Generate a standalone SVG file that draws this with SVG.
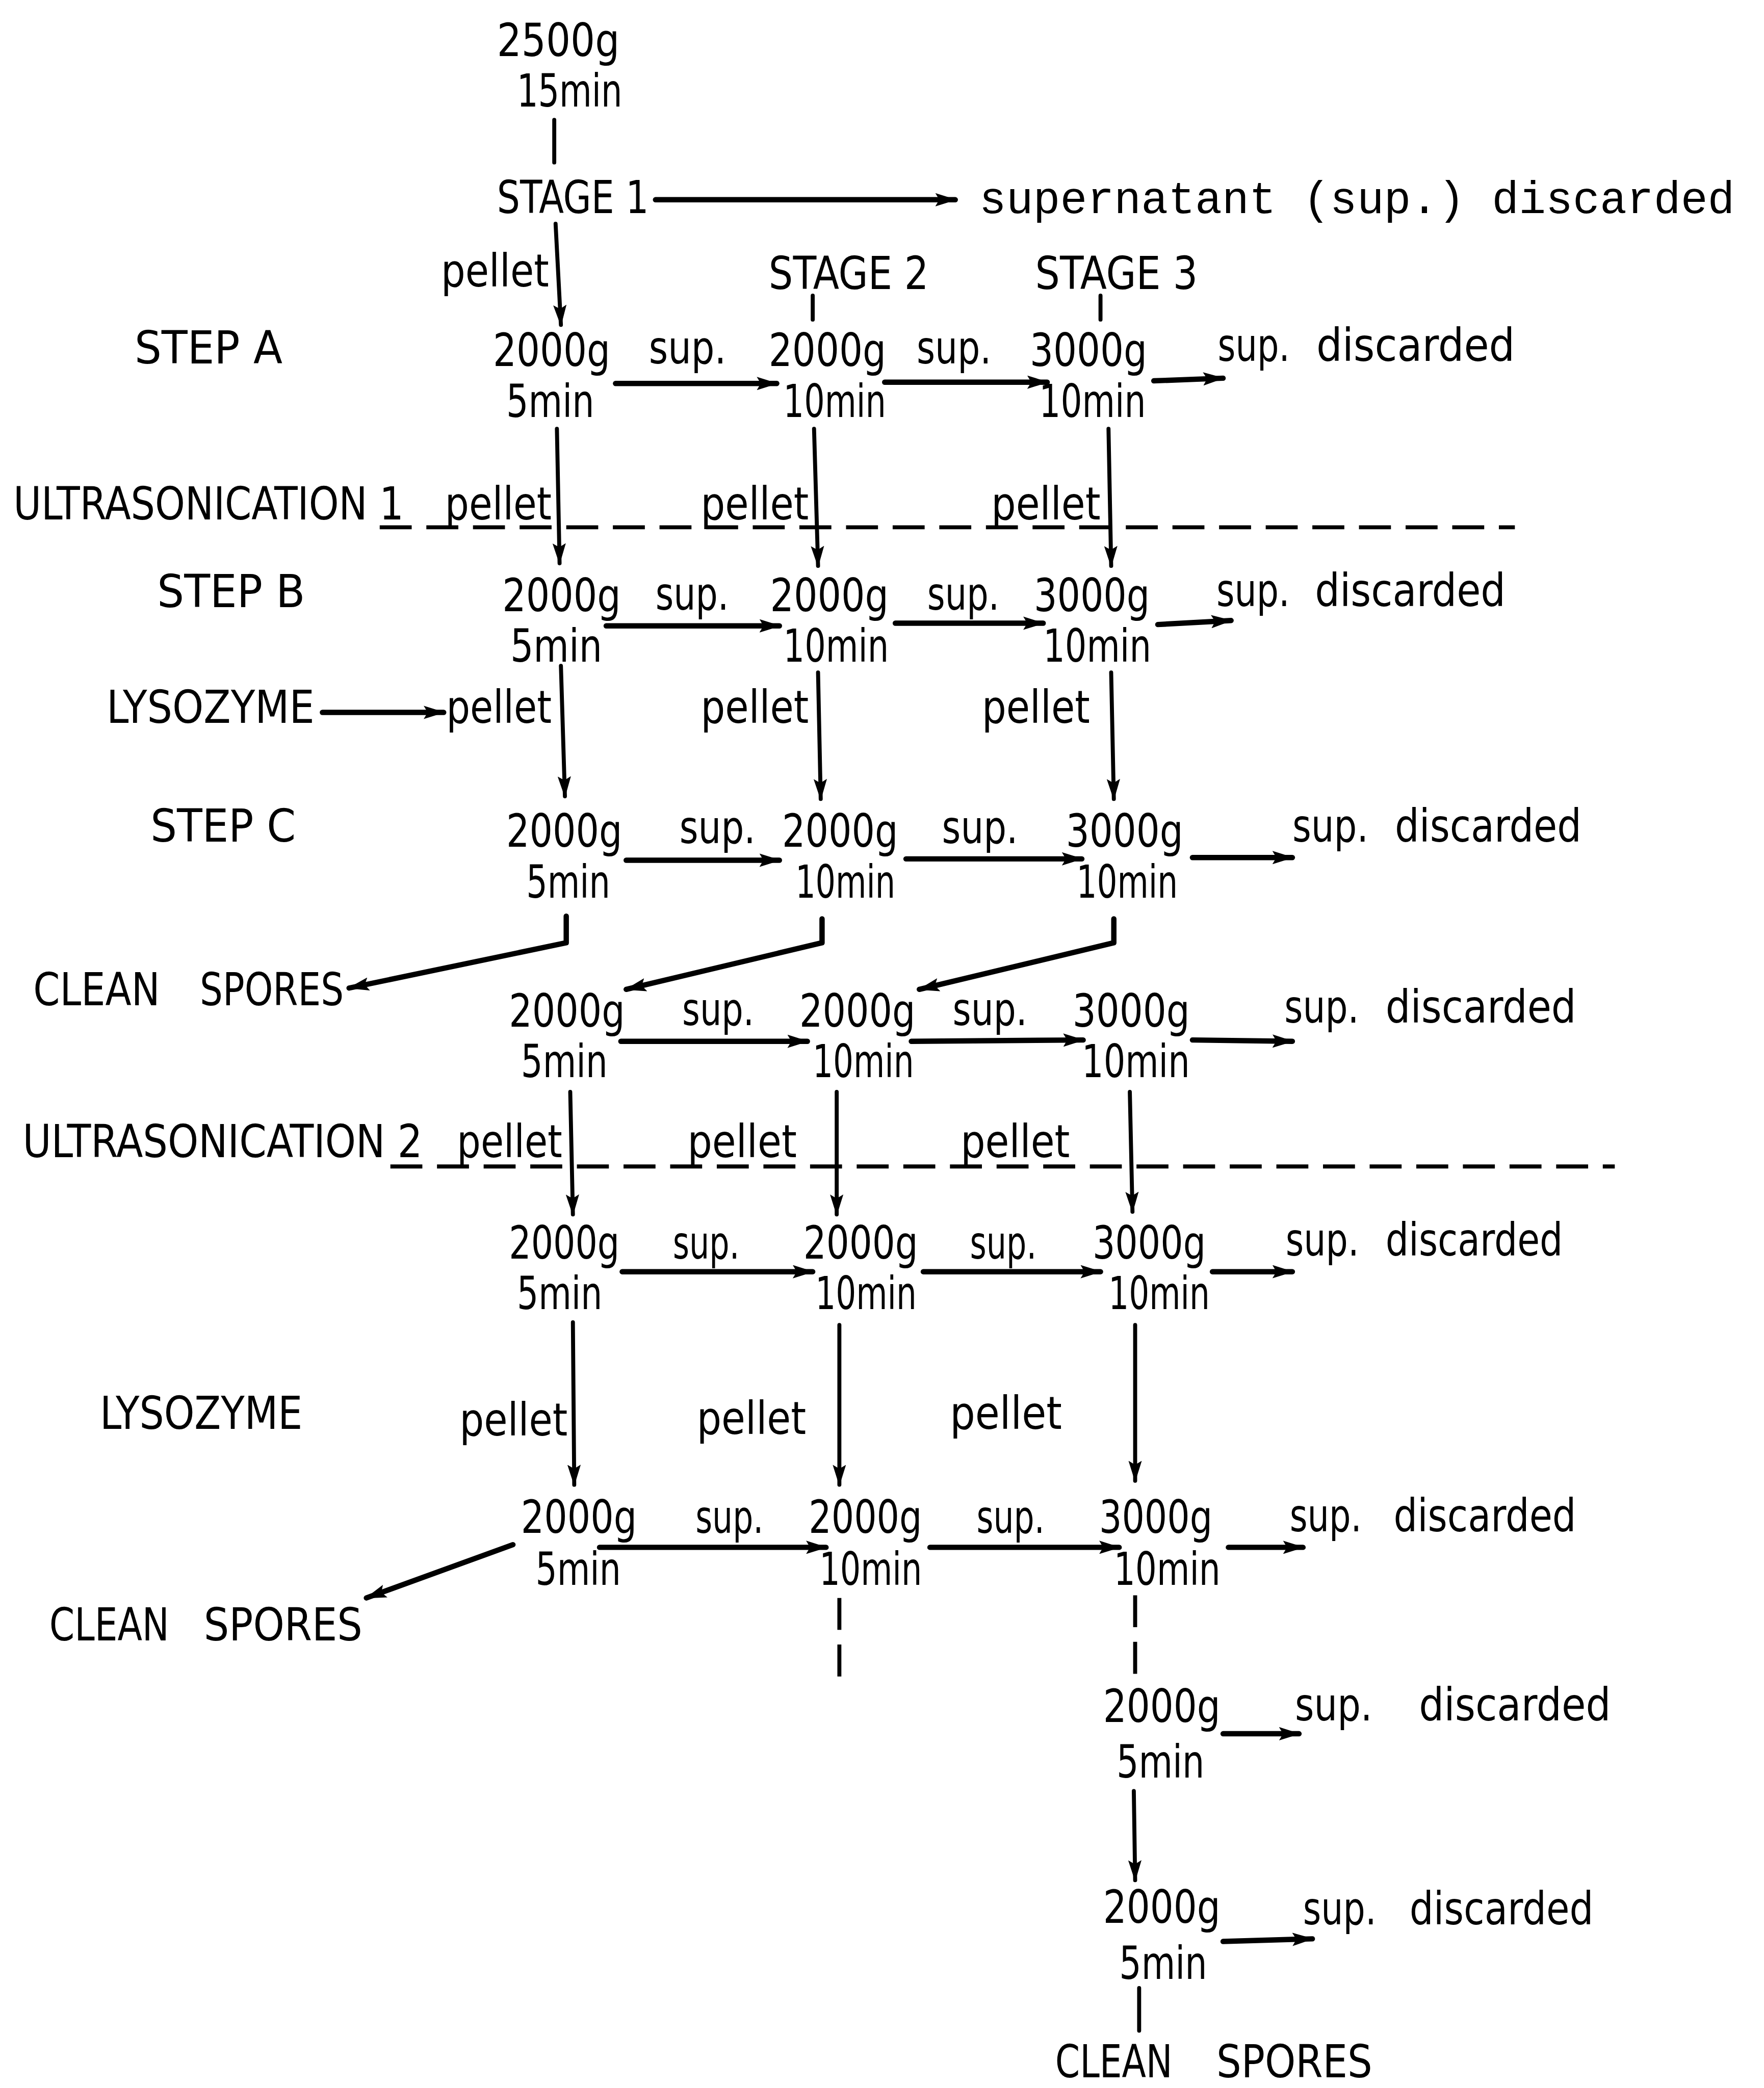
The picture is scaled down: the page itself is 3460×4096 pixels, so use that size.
<svg xmlns="http://www.w3.org/2000/svg" width="3460" height="4096" viewBox="0 0 3460 4096">
<style>
.t{font-family:"DejaVu Sans Condensed","DejaVu Sans","Liberation Sans",sans-serif;font-size:34px;fill:#000}
.m{font-family:"Liberation Mono","DejaVu Sans Mono",monospace;font-size:34px;fill:#000}
.c{stroke:#000;stroke-width:3;fill:none;stroke-linecap:round;stroke-linejoin:round}
.h{stroke-width:4}
.d{stroke-dasharray:24 11;stroke-linecap:butt}
</style>
<defs>
<marker id="ah" viewBox="0 0 16 10" refX="15" refY="5" markerWidth="16" markerHeight="10" markerUnits="userSpaceOnUse" orient="auto">
<path d="M0,0 L16,5 L0,10 L3,5 z" fill="#000"/>
</marker>
</defs>
<rect width="3460" height="4096" fill="#fff"/>
<g transform="scale(2.6133 2.6122)">
<g id="connectors">
<line class="c" x1="416" y1="90" x2="416" y2="122"/>
<line class="c h" x1="492" y1="150" x2="717" y2="150" marker-end="url(#ah)"/>
<line class="c" x1="417" y1="168" x2="421" y2="244" marker-end="url(#ah)"/>
<line class="c" x1="610" y1="222" x2="610" y2="240"/>
<line class="c" x1="826" y1="222" x2="826" y2="240"/>
<line class="c h" x1="462" y1="288" x2="583" y2="288" marker-end="url(#ah)"/>
<line class="c h" x1="664" y1="287" x2="786" y2="287" marker-end="url(#ah)"/>
<line class="c h" x1="866" y1="286" x2="918" y2="284" marker-end="url(#ah)"/>
<line class="c" x1="418" y1="322" x2="420" y2="423" marker-end="url(#ah)"/>
<line class="c" x1="611" y1="322" x2="614" y2="425" marker-end="url(#ah)"/>
<line class="c" x1="832" y1="322" x2="834" y2="425" marker-end="url(#ah)"/>
<line class="c d" x1="285" y1="396" x2="1137" y2="396"/>
<line class="c h" x1="455" y1="470" x2="585" y2="470" marker-end="url(#ah)"/>
<line class="c h" x1="672" y1="468" x2="783" y2="468" marker-end="url(#ah)"/>
<line class="c h" x1="869" y1="469" x2="924" y2="466" marker-end="url(#ah)"/>
<line class="c h" x1="242" y1="535" x2="333" y2="535" marker-end="url(#ah)"/>
<line class="c" x1="421" y1="500" x2="424" y2="598" marker-end="url(#ah)"/>
<line class="c" x1="614" y1="505" x2="616" y2="600" marker-end="url(#ah)"/>
<line class="c" x1="834" y1="505" x2="836" y2="600" marker-end="url(#ah)"/>
<line class="c h" x1="470" y1="646" x2="585" y2="646" marker-end="url(#ah)"/>
<line class="c h" x1="680" y1="645" x2="812" y2="645" marker-end="url(#ah)"/>
<line class="c h" x1="895" y1="644" x2="970" y2="644" marker-end="url(#ah)"/>
<polyline class="c h" points="425,688 425,708 262,742" marker-end="url(#ah)"/>
<polyline class="c h" points="617,690 617,708 470,743" marker-end="url(#ah)"/>
<polyline class="c h" points="836,690 836,708 690,743" marker-end="url(#ah)"/>
<line class="c h" x1="466" y1="782" x2="606" y2="782" marker-end="url(#ah)"/>
<line class="c h" x1="684" y1="782" x2="813" y2="781" marker-end="url(#ah)"/>
<line class="c h" x1="895" y1="781" x2="970" y2="782" marker-end="url(#ah)"/>
<line class="c" x1="428" y1="820" x2="430" y2="912" marker-end="url(#ah)"/>
<line class="c" x1="628" y1="820" x2="628" y2="912" marker-end="url(#ah)"/>
<line class="c" x1="848" y1="820" x2="850" y2="910" marker-end="url(#ah)"/>
<line class="c d" x1="293" y1="876" x2="1212" y2="876"/>
<line class="c h" x1="467" y1="955" x2="610" y2="955" marker-end="url(#ah)"/>
<line class="c h" x1="693" y1="955" x2="826" y2="955" marker-end="url(#ah)"/>
<line class="c h" x1="910" y1="955" x2="970" y2="955" marker-end="url(#ah)"/>
<line class="c" x1="430" y1="993" x2="431" y2="1115" marker-end="url(#ah)"/>
<line class="c" x1="630" y1="995" x2="630" y2="1115" marker-end="url(#ah)"/>
<line class="c" x1="852" y1="995" x2="852" y2="1112" marker-end="url(#ah)"/>
<line class="c h" x1="450" y1="1162" x2="620" y2="1162" marker-end="url(#ah)"/>
<line class="c h" x1="698" y1="1162" x2="840" y2="1162" marker-end="url(#ah)"/>
<line class="c h" x1="922" y1="1162" x2="978" y2="1162" marker-end="url(#ah)"/>
<line class="c h" x1="385" y1="1160" x2="275" y2="1200" marker-end="url(#ah)"/>
<line class="c d" x1="630" y1="1200" x2="630" y2="1270"/>
<line class="c d" x1="852" y1="1198" x2="852" y2="1262"/>
<line class="c h" x1="918" y1="1302" x2="975" y2="1302" marker-end="url(#ah)"/>
<line class="c" x1="851" y1="1345" x2="852" y2="1412" marker-end="url(#ah)"/>
<line class="c h" x1="918" y1="1458" x2="985" y2="1456" marker-end="url(#ah)"/>
<line class="c" x1="855" y1="1493" x2="855" y2="1525"/>
</g>

<g id="start"><text class="t"><tspan x="373" y="42" textLength="92" lengthAdjust="spacingAndGlyphs">2500g</tspan><tspan x="388" y="80" textLength="79" lengthAdjust="spacingAndGlyphs">15min</tspan></text></g>
<g id="stage1"><text class="t" x="373" y="160" textLength="114" lengthAdjust="spacingAndGlyphs">STAGE 1</text></g>
<g id="sup-discarded-top"><text class="m" x="735" y="160" textLength="567" lengthAdjust="spacingAndGlyphs">supernatant (sup.) discarded</text></g>
<g id="pellet-top"><text class="t" x="331" y="215" textLength="81" lengthAdjust="spacingAndGlyphs">pellet</text></g>
<g id="stage2"><text class="t" x="577" y="217" textLength="120" lengthAdjust="spacingAndGlyphs">STAGE 2</text></g>
<g id="stage3"><text class="t" x="777" y="217" textLength="122" lengthAdjust="spacingAndGlyphs">STAGE 3</text></g>

<g id="stepA">
<text class="t" x="101" y="273" textLength="111" lengthAdjust="spacingAndGlyphs">STEP A</text>
<g id="A1"><text class="t"><tspan x="370" y="275" textLength="88" lengthAdjust="spacingAndGlyphs">2000g</tspan><tspan x="380" y="313" textLength="66" lengthAdjust="spacingAndGlyphs">5min</tspan></text></g>
<text class="t" x="487" y="273" textLength="58" lengthAdjust="spacingAndGlyphs">sup.</text>
<g id="A2"><text class="t"><tspan x="577" y="275" textLength="88" lengthAdjust="spacingAndGlyphs">2000g</tspan><tspan x="588" y="313" textLength="77" lengthAdjust="spacingAndGlyphs">10min</tspan></text></g>
<text class="t" x="688" y="273" textLength="56" lengthAdjust="spacingAndGlyphs">sup.</text>
<g id="A3"><text class="t"><tspan x="773" y="275" textLength="88" lengthAdjust="spacingAndGlyphs">3000g</tspan><tspan x="780" y="313" textLength="80" lengthAdjust="spacingAndGlyphs">10min</tspan></text></g>
<text class="t"><tspan x="914" y="271" textLength="54" lengthAdjust="spacingAndGlyphs">sup.</tspan><tspan x="988" y="271" textLength="149" lengthAdjust="spacingAndGlyphs">discarded</tspan></text>
</g>

<g id="ultra1">
<text class="t" x="10" y="390" textLength="293" lengthAdjust="spacingAndGlyphs">ULTRASONICATION 1</text>
<text class="t" x="334" y="390" textLength="80" lengthAdjust="spacingAndGlyphs">pellet</text>
<text class="t" x="526" y="390" textLength="81" lengthAdjust="spacingAndGlyphs">pellet</text>
<text class="t" x="744" y="390" textLength="82" lengthAdjust="spacingAndGlyphs">pellet</text>
</g>

<g id="stepB">
<text class="t" x="118" y="456" textLength="111" lengthAdjust="spacingAndGlyphs">STEP B</text>
<g id="B1"><text class="t"><tspan x="377" y="459" textLength="89" lengthAdjust="spacingAndGlyphs">2000g</tspan><tspan x="383" y="497" textLength="69" lengthAdjust="spacingAndGlyphs">5min</tspan></text></g>
<text class="t" x="492" y="458" textLength="55" lengthAdjust="spacingAndGlyphs">sup.</text>
<g id="B2"><text class="t"><tspan x="578" y="459" textLength="89" lengthAdjust="spacingAndGlyphs">2000g</tspan><tspan x="588" y="497" textLength="79" lengthAdjust="spacingAndGlyphs">10min</tspan></text></g>
<text class="t" x="696" y="458" textLength="54" lengthAdjust="spacingAndGlyphs">sup.</text>
<g id="B3"><text class="t"><tspan x="776" y="459" textLength="87" lengthAdjust="spacingAndGlyphs">3000g</tspan><tspan x="783" y="497" textLength="81" lengthAdjust="spacingAndGlyphs">10min</tspan></text></g>
<text class="t"><tspan x="913" y="455" textLength="55" lengthAdjust="spacingAndGlyphs">sup.</tspan><tspan x="987" y="455" textLength="143" lengthAdjust="spacingAndGlyphs">discarded</tspan></text>
</g>

<g id="lysozyme1">
<text class="t" x="80" y="543" textLength="156" lengthAdjust="spacingAndGlyphs">LYSOZYME</text>
<text class="t" x="335" y="543" textLength="79" lengthAdjust="spacingAndGlyphs">pellet</text>
<text class="t" x="526" y="543" textLength="81" lengthAdjust="spacingAndGlyphs">pellet</text>
<text class="t" x="737" y="543" textLength="81" lengthAdjust="spacingAndGlyphs">pellet</text>
</g>

<g id="stepC">
<text class="t" x="113" y="632" textLength="109" lengthAdjust="spacingAndGlyphs">STEP C</text>
<g id="C1"><text class="t"><tspan x="380" y="636" textLength="87" lengthAdjust="spacingAndGlyphs">2000g</tspan><tspan x="395" y="674" textLength="63" lengthAdjust="spacingAndGlyphs">5min</tspan></text></g>
<text class="t" x="510" y="633" textLength="57" lengthAdjust="spacingAndGlyphs">sup.</text>
<g id="C2"><text class="t"><tspan x="587" y="636" textLength="87" lengthAdjust="spacingAndGlyphs">2000g</tspan><tspan x="597" y="674" textLength="75" lengthAdjust="spacingAndGlyphs">10min</tspan></text></g>
<text class="t" x="707" y="633" textLength="57" lengthAdjust="spacingAndGlyphs">sup.</text>
<g id="C3"><text class="t"><tspan x="800" y="636" textLength="88" lengthAdjust="spacingAndGlyphs">3000g</tspan><tspan x="808" y="674" textLength="76" lengthAdjust="spacingAndGlyphs">10min</tspan></text></g>
<text class="t"><tspan x="970" y="632" textLength="57" lengthAdjust="spacingAndGlyphs">sup.</tspan><tspan x="1047" y="632" textLength="140" lengthAdjust="spacingAndGlyphs">discarded</tspan></text>
</g>

<g id="clean1"><text class="t"><tspan x="25" y="755" textLength="95" lengthAdjust="spacingAndGlyphs">CLEAN</tspan><tspan x="150" y="755" textLength="108" lengthAdjust="spacingAndGlyphs">SPORES</tspan></text></g>

<g id="stepD">
<g id="D1"><text class="t"><tspan x="382" y="771" textLength="87" lengthAdjust="spacingAndGlyphs">2000g</tspan><tspan x="391" y="809" textLength="65" lengthAdjust="spacingAndGlyphs">5min</tspan></text></g>
<text class="t" x="512" y="770" textLength="54" lengthAdjust="spacingAndGlyphs">sup.</text>
<g id="D2"><text class="t"><tspan x="600" y="771" textLength="87" lengthAdjust="spacingAndGlyphs">2000g</tspan><tspan x="610" y="809" textLength="76" lengthAdjust="spacingAndGlyphs">10min</tspan></text></g>
<text class="t" x="715" y="770" textLength="56" lengthAdjust="spacingAndGlyphs">sup.</text>
<g id="D3"><text class="t"><tspan x="805" y="771" textLength="88" lengthAdjust="spacingAndGlyphs">3000g</tspan><tspan x="812" y="809" textLength="81" lengthAdjust="spacingAndGlyphs">10min</tspan></text></g>
<text class="t"><tspan x="964" y="768" textLength="56" lengthAdjust="spacingAndGlyphs">sup.</tspan><tspan x="1040" y="768" textLength="143" lengthAdjust="spacingAndGlyphs">discarded</tspan></text>
</g>

<g id="ultra2">
<text class="t" x="17" y="869" textLength="300" lengthAdjust="spacingAndGlyphs">ULTRASONICATION 2</text>
<text class="t" x="343" y="869" textLength="79" lengthAdjust="spacingAndGlyphs">pellet</text>
<text class="t" x="516" y="869" textLength="82" lengthAdjust="spacingAndGlyphs">pellet</text>
<text class="t" x="721" y="869" textLength="82" lengthAdjust="spacingAndGlyphs">pellet</text>
</g>

<g id="stepE">
<g id="E1"><text class="t"><tspan x="382" y="945" textLength="83" lengthAdjust="spacingAndGlyphs">2000g</tspan><tspan x="388" y="983" textLength="64" lengthAdjust="spacingAndGlyphs">5min</tspan></text></g>
<text class="t" x="505" y="945" textLength="50" lengthAdjust="spacingAndGlyphs">sup.</text>
<g id="E2"><text class="t"><tspan x="603" y="945" textLength="86" lengthAdjust="spacingAndGlyphs">2000g</tspan><tspan x="612" y="983" textLength="76" lengthAdjust="spacingAndGlyphs">10min</tspan></text></g>
<text class="t" x="728" y="945" textLength="50" lengthAdjust="spacingAndGlyphs">sup.</text>
<g id="E3"><text class="t"><tspan x="820" y="945" textLength="85" lengthAdjust="spacingAndGlyphs">3000g</tspan><tspan x="832" y="983" textLength="76" lengthAdjust="spacingAndGlyphs">10min</tspan></text></g>
<text class="t"><tspan x="965" y="943" textLength="55" lengthAdjust="spacingAndGlyphs">sup.</tspan><tspan x="1040" y="943" textLength="133" lengthAdjust="spacingAndGlyphs">discarded</tspan></text>
</g>

<g id="lysozyme2">
<text class="t" x="75" y="1073" textLength="152" lengthAdjust="spacingAndGlyphs">LYSOZYME</text>
<text class="t" x="345" y="1078" textLength="81" lengthAdjust="spacingAndGlyphs">pellet</text>
<text class="t" x="523" y="1077" textLength="82" lengthAdjust="spacingAndGlyphs">pellet</text>
<text class="t" x="713" y="1073" textLength="84" lengthAdjust="spacingAndGlyphs">pellet</text>
</g>

<g id="stepF">
<g id="F1"><text class="t"><tspan x="391" y="1151" textLength="87" lengthAdjust="spacingAndGlyphs">2000g</tspan><tspan x="402" y="1190" textLength="64" lengthAdjust="spacingAndGlyphs">5min</tspan></text></g>
<text class="t" x="522" y="1151" textLength="51" lengthAdjust="spacingAndGlyphs">sup.</text>
<g id="F2"><text class="t"><tspan x="607" y="1151" textLength="85" lengthAdjust="spacingAndGlyphs">2000g</tspan><tspan x="615" y="1190" textLength="77" lengthAdjust="spacingAndGlyphs">10min</tspan></text></g>
<text class="t" x="733" y="1151" textLength="51" lengthAdjust="spacingAndGlyphs">sup.</text>
<g id="F3"><text class="t"><tspan x="825" y="1151" textLength="85" lengthAdjust="spacingAndGlyphs">3000g</tspan><tspan x="836" y="1190" textLength="80" lengthAdjust="spacingAndGlyphs">10min</tspan></text></g>
<text class="t"><tspan x="968" y="1150" textLength="54" lengthAdjust="spacingAndGlyphs">sup.</tspan><tspan x="1046" y="1150" textLength="137" lengthAdjust="spacingAndGlyphs">discarded</tspan></text>
</g>

<g id="clean2"><text class="t"><tspan x="37" y="1232" textLength="90" lengthAdjust="spacingAndGlyphs">CLEAN</tspan><tspan x="153" y="1232" textLength="119" lengthAdjust="spacingAndGlyphs">SPORES</tspan></text></g>

<g id="stepG">
<g id="G1"><text class="t"><tspan x="828" y="1293" textLength="88" lengthAdjust="spacingAndGlyphs">2000g</tspan><tspan x="838" y="1335" textLength="66" lengthAdjust="spacingAndGlyphs">5min</tspan></text></g>
<text class="t"><tspan x="972" y="1292" textLength="58" lengthAdjust="spacingAndGlyphs">sup.</tspan><tspan x="1065" y="1292" textLength="144" lengthAdjust="spacingAndGlyphs">discarded</tspan></text>
</g>

<g id="stepH">
<g id="H1"><text class="t"><tspan x="828" y="1444" textLength="88" lengthAdjust="spacingAndGlyphs">2000g</tspan><tspan x="840" y="1486" textLength="66" lengthAdjust="spacingAndGlyphs">5min</tspan></text></g>
<text class="t"><tspan x="978" y="1445" textLength="55" lengthAdjust="spacingAndGlyphs">sup.</tspan><tspan x="1058" y="1445" textLength="138" lengthAdjust="spacingAndGlyphs">discarded</tspan></text>
</g>

<g id="clean3"><text class="t"><tspan x="792" y="1560" textLength="88" lengthAdjust="spacingAndGlyphs">CLEAN</tspan><tspan x="913" y="1560" textLength="117" lengthAdjust="spacingAndGlyphs">SPORES</tspan></text></g>
</g>
</svg>
